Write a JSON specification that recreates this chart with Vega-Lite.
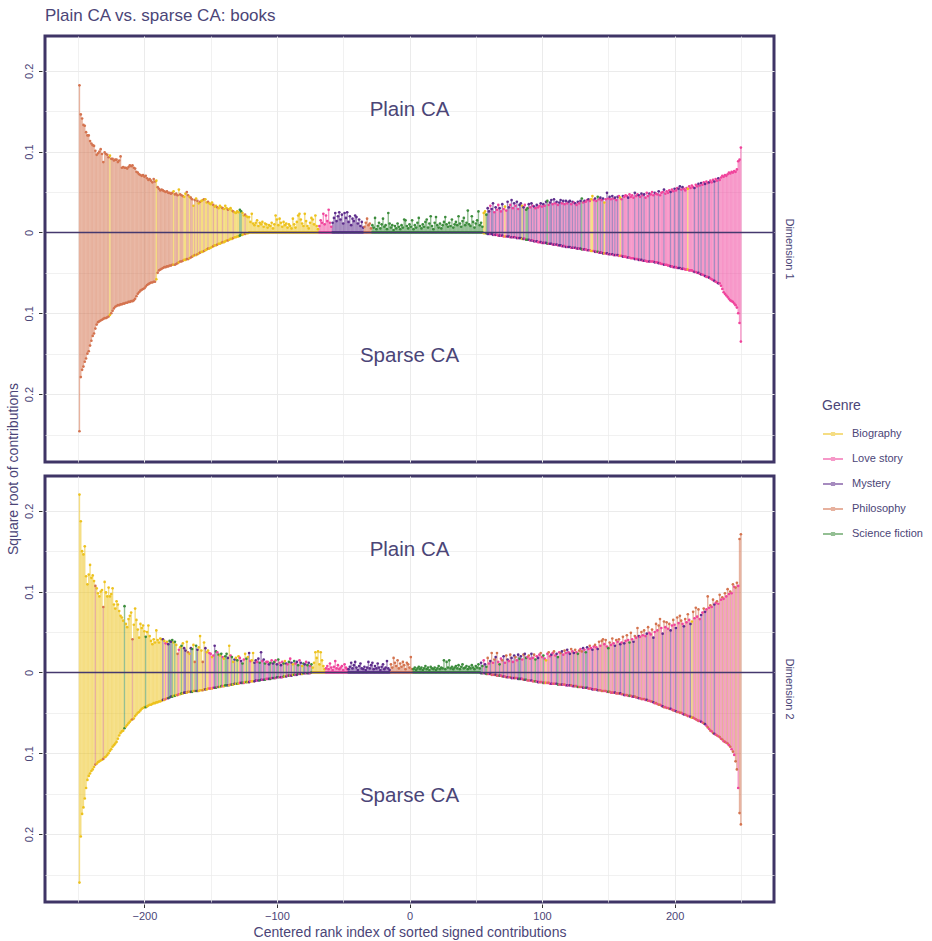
{
"padding":{"left":6,"top":6,"right":0,"bottom":5},
"background":"white",
"title":{"text":"Plain CA vs. sparse CA: books","anchor":"start","frame":"group","fontSize":17,"fontWeight":"normal","color":"#4B4577","font":"Liberation Sans","offset":10},
"data":{"values":[
{"d":1,"x":-249,"g":"P","p":0.182,"s":-0.246},{"d":1,"x":-248,"g":"P","p":0.146,"s":-0.179},{"d":1,"x":-247,"g":"P","p":0.141,"s":-0.170},{"d":1,"x":-246,"g":"P","p":0.133,"s":-0.166},{"d":1,"x":-245,"g":"P","p":0.132,"s":-0.160},{"d":1,"x":-244,"g":"P","p":0.124,"s":-0.156},{"d":1,"x":-243,"g":"P","p":0.120,"s":-0.150},{"d":1,"x":-242,"g":"P","p":0.120,"s":-0.147},{"d":1,"x":-241,"g":"P","p":0.113,"s":-0.140},{"d":1,"x":-240,"g":"P","p":0.110,"s":-0.134},
{"d":1,"x":-239,"g":"P","p":0.108,"s":-0.128},{"d":1,"x":-238,"g":"P","p":0.107,"s":-0.125},{"d":1,"x":-237,"g":"P","p":0.101,"s":-0.119},{"d":1,"x":-236,"g":"P","p":0.096,"s":-0.114},{"d":1,"x":-235,"g":"P","p":0.098,"s":-0.111},{"d":1,"x":-234,"g":"P","p":0.100,"s":-0.110},{"d":1,"x":-233,"g":"P","p":0.103,"s":-0.109},{"d":1,"x":-232,"g":"P","p":0.097,"s":-0.108},{"d":1,"x":-231,"g":"P","p":0.087,"s":-0.107},{"d":1,"x":-230,"g":"P","p":0.099,"s":-0.106},
{"d":1,"x":-229,"g":"P","p":0.097,"s":-0.106},{"d":1,"x":-228,"g":"P","p":0.096,"s":-0.105},{"d":1,"x":-227,"g":"P","p":0.093,"s":-0.104},{"d":1,"x":-226,"g":"B","p":0.095,"s":-0.102},{"d":1,"x":-225,"g":"P","p":0.091,"s":-0.100},{"d":1,"x":-224,"g":"P","p":0.091,"s":-0.097},{"d":1,"x":-223,"g":"P","p":0.089,"s":-0.094},{"d":1,"x":-222,"g":"P","p":0.090,"s":-0.092},{"d":1,"x":-221,"g":"P","p":0.090,"s":-0.091},{"d":1,"x":-220,"g":"P","p":0.087,"s":-0.090},
{"d":1,"x":-219,"g":"P","p":0.089,"s":-0.090},{"d":1,"x":-218,"g":"P","p":0.094,"s":-0.089},{"d":1,"x":-217,"g":"P","p":0.080,"s":-0.089},{"d":1,"x":-216,"g":"P","p":0.081,"s":-0.088},{"d":1,"x":-215,"g":"P","p":0.080,"s":-0.088},{"d":1,"x":-214,"g":"P","p":0.080,"s":-0.087},{"d":1,"x":-213,"g":"P","p":0.079,"s":-0.087},{"d":1,"x":-212,"g":"P","p":0.081,"s":-0.086},{"d":1,"x":-211,"g":"P","p":0.083,"s":-0.086},{"d":1,"x":-210,"g":"P","p":0.082,"s":-0.085},
{"d":1,"x":-209,"g":"P","p":0.083,"s":-0.085},{"d":1,"x":-208,"g":"P","p":0.080,"s":-0.084},{"d":1,"x":-207,"g":"P","p":0.079,"s":-0.082},{"d":1,"x":-206,"g":"P","p":0.075,"s":-0.079},{"d":1,"x":-205,"g":"P","p":0.074,"s":-0.076},{"d":1,"x":-204,"g":"P","p":0.072,"s":-0.074},{"d":1,"x":-203,"g":"P","p":0.071,"s":-0.072},{"d":1,"x":-202,"g":"P","p":0.070,"s":-0.071},{"d":1,"x":-201,"g":"P","p":0.071,"s":-0.070},{"d":1,"x":-200,"g":"P","p":0.069,"s":-0.069},
{"d":1,"x":-199,"g":"P","p":0.070,"s":-0.067},{"d":1,"x":-198,"g":"P","p":0.067,"s":-0.065},{"d":1,"x":-197,"g":"P","p":0.065,"s":-0.064},{"d":1,"x":-196,"g":"P","p":0.066,"s":-0.063},{"d":1,"x":-195,"g":"P","p":0.064,"s":-0.062},{"d":1,"x":-194,"g":"P","p":0.062,"s":-0.062},{"d":1,"x":-193,"g":"P","p":0.066,"s":-0.061},{"d":1,"x":-192,"g":"P","p":0.063,"s":-0.061},{"d":1,"x":-191,"g":"B","p":0.064,"s":-0.058},{"d":1,"x":-190,"g":"P","p":0.056,"s":-0.050},
{"d":1,"x":-189,"g":"P","p":0.054,"s":-0.047},{"d":1,"x":-188,"g":"P","p":0.052,"s":-0.046},{"d":1,"x":-187,"g":"P","p":0.053,"s":-0.045},{"d":1,"x":-186,"g":"P","p":0.052,"s":-0.044},{"d":1,"x":-185,"g":"P","p":0.051,"s":-0.043},{"d":1,"x":-184,"g":"P","p":0.050,"s":-0.043},{"d":1,"x":-183,"g":"P","p":0.051,"s":-0.042},{"d":1,"x":-182,"g":"P","p":0.049,"s":-0.042},{"d":1,"x":-181,"g":"P","p":0.049,"s":-0.041},{"d":1,"x":-180,"g":"P","p":0.048,"s":-0.041},
{"d":1,"x":-179,"g":"P","p":0.049,"s":-0.040},{"d":1,"x":-178,"g":"B","p":0.051,"s":-0.040},{"d":1,"x":-177,"g":"P","p":0.047,"s":-0.040},{"d":1,"x":-176,"g":"P","p":0.048,"s":-0.039},{"d":1,"x":-175,"g":"P","p":0.046,"s":-0.038},{"d":1,"x":-174,"g":"B","p":0.053,"s":-0.037},{"d":1,"x":-173,"g":"P","p":0.047,"s":-0.036},{"d":1,"x":-172,"g":"P","p":0.046,"s":-0.036},{"d":1,"x":-171,"g":"P","p":0.045,"s":-0.035},{"d":1,"x":-170,"g":"B","p":0.044,"s":-0.034},
{"d":1,"x":-169,"g":"B","p":0.048,"s":-0.034},{"d":1,"x":-168,"g":"P","p":0.050,"s":-0.033},{"d":1,"x":-167,"g":"P","p":0.046,"s":-0.033},{"d":1,"x":-166,"g":"B","p":0.044,"s":-0.032},{"d":1,"x":-165,"g":"P","p":0.043,"s":-0.031},{"d":1,"x":-164,"g":"P","p":0.041,"s":-0.030},{"d":1,"x":-163,"g":"B","p":0.033,"s":-0.029},{"d":1,"x":-162,"g":"P","p":0.040,"s":-0.028},{"d":1,"x":-161,"g":"B","p":0.042,"s":-0.028},{"d":1,"x":-160,"g":"P","p":0.039,"s":-0.027},
{"d":1,"x":-159,"g":"B","p":0.036,"s":-0.026},{"d":1,"x":-158,"g":"P","p":0.038,"s":-0.025},{"d":1,"x":-157,"g":"B","p":0.039,"s":-0.024},{"d":1,"x":-156,"g":"B","p":0.040,"s":-0.024},{"d":1,"x":-155,"g":"P","p":0.041,"s":-0.023},{"d":1,"x":-154,"g":"B","p":0.041,"s":-0.022},{"d":1,"x":-153,"g":"B","p":0.037,"s":-0.021},{"d":1,"x":-152,"g":"P","p":0.038,"s":-0.020},{"d":1,"x":-151,"g":"B","p":0.036,"s":-0.020},{"d":1,"x":-150,"g":"B","p":0.035,"s":-0.019},
{"d":1,"x":-149,"g":"B","p":0.037,"s":-0.018},{"d":1,"x":-148,"g":"P","p":0.034,"s":-0.017},{"d":1,"x":-147,"g":"B","p":0.032,"s":-0.016},{"d":1,"x":-146,"g":"B","p":0.033,"s":-0.016},{"d":1,"x":-145,"g":"P","p":0.031,"s":-0.015},{"d":1,"x":-144,"g":"B","p":0.030,"s":-0.014},{"d":1,"x":-143,"g":"B","p":0.033,"s":-0.014},{"d":1,"x":-142,"g":"B","p":0.031,"s":-0.013},{"d":1,"x":-141,"g":"P","p":0.030,"s":-0.012},{"d":1,"x":-140,"g":"B","p":0.029,"s":-0.012},
{"d":1,"x":-139,"g":"B","p":0.033,"s":-0.011},{"d":1,"x":-138,"g":"B","p":0.030,"s":-0.010},{"d":1,"x":-137,"g":"P","p":0.028,"s":-0.010},{"d":1,"x":-136,"g":"B","p":0.029,"s":-0.009},{"d":1,"x":-135,"g":"B","p":0.030,"s":-0.008},{"d":1,"x":-134,"g":"B","p":0.027,"s":-0.008},{"d":1,"x":-133,"g":"P","p":0.026,"s":-0.007},{"d":1,"x":-132,"g":"B","p":0.025,"s":-0.006},{"d":1,"x":-131,"g":"B","p":0.024,"s":-0.006},{"d":1,"x":-130,"g":"B","p":0.026,"s":-0.005},
{"d":1,"x":-129,"g":"B","p":0.025,"s":-0.005},{"d":1,"x":-128,"g":"G","p":0.028,"s":-0.004},{"d":1,"x":-127,"g":"G","p":0.026,"s":-0.003},{"d":1,"x":-126,"g":"B","p":0.024,"s":-0.003},{"d":1,"x":-125,"g":"B","p":0.021,"s":-0.002},{"d":1,"x":-124,"g":"P","p":0.022,"s":-0.002},{"d":1,"x":-123,"g":"B","p":0.020,"s":-0.001},{"d":1,"x":-122,"g":"B","p":0.019,"s":-0.001},
{"d":1,"x":-121,"g":"B","p":0.019,"s":0},{"d":1,"x":-120,"g":"B","p":0.013,"s":0},{"d":1,"x":-119,"g":"B","p":0.023,"s":0},{"d":1,"x":-118,"g":"B","p":0.011,"s":0},{"d":1,"x":-117,"g":"B","p":0.009,"s":0},{"d":1,"x":-116,"g":"B","p":0.012,"s":0},{"d":1,"x":-115,"g":"B","p":0.015,"s":0},{"d":1,"x":-114,"g":"B","p":0.008,"s":0},{"d":1,"x":-113,"g":"B","p":0.012,"s":0},{"d":1,"x":-112,"g":"B","p":0.010,"s":0},
{"d":1,"x":-111,"g":"B","p":0.013,"s":0},{"d":1,"x":-110,"g":"B","p":0.007,"s":0},{"d":1,"x":-109,"g":"B","p":0.011,"s":0},{"d":1,"x":-108,"g":"B","p":0.010,"s":0},{"d":1,"x":-107,"g":"B","p":0.006,"s":0},{"d":1,"x":-106,"g":"B","p":0.009,"s":0},{"d":1,"x":-105,"g":"B","p":0.008,"s":0},{"d":1,"x":-104,"g":"B","p":0.012,"s":0},{"d":1,"x":-103,"g":"B","p":0.005,"s":0},{"d":1,"x":-102,"g":"B","p":0.010,"s":0},
{"d":1,"x":-101,"g":"B","p":0.021,"s":0},{"d":1,"x":-100,"g":"B","p":0.016,"s":0},{"d":1,"x":-99,"g":"B","p":0.009,"s":0},{"d":1,"x":-98,"g":"B","p":0.017,"s":0},{"d":1,"x":-97,"g":"B","p":0.012,"s":0},{"d":1,"x":-96,"g":"B","p":0.007,"s":0},{"d":1,"x":-95,"g":"B","p":0.013,"s":0},{"d":1,"x":-94,"g":"B","p":0.009,"s":0},{"d":1,"x":-93,"g":"B","p":0.011,"s":0},{"d":1,"x":-92,"g":"B","p":0.006,"s":0},
{"d":1,"x":-91,"g":"B","p":0.010,"s":0},{"d":1,"x":-90,"g":"B","p":0.008,"s":0},{"d":1,"x":-89,"g":"B","p":0.005,"s":0},{"d":1,"x":-88,"g":"B","p":0.017,"s":0},{"d":1,"x":-87,"g":"B","p":0.010,"s":0},{"d":1,"x":-86,"g":"B","p":0.006,"s":0},{"d":1,"x":-85,"g":"B","p":0.013,"s":0},{"d":1,"x":-84,"g":"B","p":0.021,"s":0},{"d":1,"x":-83,"g":"B","p":0.023,"s":0},{"d":1,"x":-82,"g":"B","p":0.016,"s":0},
{"d":1,"x":-81,"g":"B","p":0.011,"s":0},{"d":1,"x":-80,"g":"B","p":0.008,"s":0},{"d":1,"x":-79,"g":"B","p":0.023,"s":0},{"d":1,"x":-78,"g":"B","p":0.014,"s":0},{"d":1,"x":-77,"g":"B","p":0.008,"s":0},{"d":1,"x":-76,"g":"B","p":0.005,"s":0},{"d":1,"x":-75,"g":"B","p":0.012,"s":0},{"d":1,"x":-74,"g":"B","p":0.018,"s":0},{"d":1,"x":-73,"g":"B","p":0.016,"s":0},{"d":1,"x":-72,"g":"B","p":0.010,"s":0},
{"d":1,"x":-71,"g":"B","p":0.021,"s":0},{"d":1,"x":-70,"g":"B","p":0.008,"s":0},{"d":1,"x":-69,"g":"B","p":0.004,"s":0},
{"d":1,"x":-68,"g":"L","p":0.008,"s":0},{"d":1,"x":-67,"g":"L","p":0.015,"s":0},{"d":1,"x":-66,"g":"L","p":0.012,"s":0},{"d":1,"x":-65,"g":"L","p":0.023,"s":0},{"d":1,"x":-64,"g":"L","p":0.010,"s":0},{"d":1,"x":-63,"g":"L","p":0.021,"s":0},{"d":1,"x":-62,"g":"L","p":0.014,"s":0},{"d":1,"x":-61,"g":"L","p":0.028,"s":0},{"d":1,"x":-60,"g":"L","p":0.012,"s":0},{"d":1,"x":-59,"g":"L","p":0.007,"s":0},
{"d":1,"x":-58,"g":"M","p":0.012,"s":0},{"d":1,"x":-57,"g":"M","p":0.018,"s":0},{"d":1,"x":-56,"g":"M","p":0.024,"s":0},{"d":1,"x":-55,"g":"M","p":0.014,"s":0},{"d":1,"x":-54,"g":"M","p":0.020,"s":0},{"d":1,"x":-53,"g":"M","p":0.025,"s":0},{"d":1,"x":-52,"g":"M","p":0.016,"s":0},{"d":1,"x":-51,"g":"M","p":0.022,"s":0},{"d":1,"x":-50,"g":"M","p":0.011,"s":0},{"d":1,"x":-49,"g":"M","p":0.024,"s":0},
{"d":1,"x":-48,"g":"M","p":0.018,"s":0},{"d":1,"x":-47,"g":"M","p":0.025,"s":0},{"d":1,"x":-46,"g":"M","p":0.013,"s":0},{"d":1,"x":-45,"g":"M","p":0.020,"s":0},{"d":1,"x":-44,"g":"M","p":0.009,"s":0},{"d":1,"x":-43,"g":"M","p":0.017,"s":0},{"d":1,"x":-42,"g":"M","p":0.014,"s":0},{"d":1,"x":-41,"g":"M","p":0.021,"s":0},{"d":1,"x":-40,"g":"M","p":0.019,"s":0},{"d":1,"x":-39,"g":"M","p":0.011,"s":0},
{"d":1,"x":-38,"g":"M","p":0.016,"s":0},{"d":1,"x":-37,"g":"M","p":0.008,"s":0},{"d":1,"x":-36,"g":"M","p":0.013,"s":0},{"d":1,"x":-35,"g":"M","p":0.006,"s":0},
{"d":1,"x":-34,"g":"P","p":0.007,"s":0},{"d":1,"x":-33,"g":"P","p":0.012,"s":0},{"d":1,"x":-32,"g":"P","p":0.017,"s":0},{"d":1,"x":-31,"g":"P","p":0.009,"s":0},{"d":1,"x":-30,"g":"P","p":0.011,"s":0},{"d":1,"x":-29,"g":"P","p":0.005,"s":0},
{"d":1,"x":-28,"g":"G","p":0.009,"s":0},{"d":1,"x":-27,"g":"G","p":0.006,"s":0},{"d":1,"x":-26,"g":"G","p":0.018,"s":0},{"d":1,"x":-25,"g":"G","p":0.004,"s":0},{"d":1,"x":-24,"g":"G","p":0.008,"s":0},{"d":1,"x":-23,"g":"G","p":0.012,"s":0},{"d":1,"x":-22,"g":"G","p":0.005,"s":0},{"d":1,"x":-21,"g":"G","p":0.010,"s":0},{"d":1,"x":-20,"g":"G","p":0.017,"s":0},{"d":1,"x":-19,"g":"G","p":0.007,"s":0},
{"d":1,"x":-18,"g":"G","p":0.009,"s":0},{"d":1,"x":-17,"g":"G","p":0.004,"s":0},{"d":1,"x":-16,"g":"G","p":0.024,"s":0},{"d":1,"x":-15,"g":"G","p":0.011,"s":0},{"d":1,"x":-14,"g":"G","p":0.006,"s":0},{"d":1,"x":-13,"g":"G","p":0.009,"s":0},{"d":1,"x":-12,"g":"G","p":0.003,"s":0},{"d":1,"x":-11,"g":"G","p":0.008,"s":0},{"d":1,"x":-10,"g":"G","p":0.005,"s":0},{"d":1,"x":-9,"g":"G","p":0.011,"s":0},
{"d":1,"x":-8,"g":"G","p":0.007,"s":0},{"d":1,"x":-7,"g":"G","p":0.004,"s":0},{"d":1,"x":-6,"g":"G","p":0.009,"s":0},{"d":1,"x":-5,"g":"G","p":0.006,"s":0},{"d":1,"x":-4,"g":"G","p":0.016,"s":0},{"d":1,"x":-3,"g":"G","p":0.015,"s":0},{"d":1,"x":-2,"g":"G","p":0.008,"s":0},{"d":1,"x":-1,"g":"G","p":0.005,"s":0},{"d":1,"x":0,"g":"G","p":0.010,"s":0},{"d":1,"x":1,"g":"G","p":0.007,"s":0},
{"d":1,"x":2,"g":"G","p":0.015,"s":0},{"d":1,"x":3,"g":"G","p":0.004,"s":0},{"d":1,"x":4,"g":"G","p":0.009,"s":0},{"d":1,"x":5,"g":"G","p":0.006,"s":0},{"d":1,"x":6,"g":"G","p":0.012,"s":0},{"d":1,"x":7,"g":"G","p":0.018,"s":0},{"d":1,"x":8,"g":"G","p":0.008,"s":0},{"d":1,"x":9,"g":"G","p":0.005,"s":0},{"d":1,"x":10,"g":"G","p":0.010,"s":0},{"d":1,"x":11,"g":"G","p":0.007,"s":0},
{"d":1,"x":12,"g":"G","p":0.013,"s":0},{"d":1,"x":13,"g":"G","p":0.016,"s":0},{"d":1,"x":14,"g":"G","p":0.006,"s":0},{"d":1,"x":15,"g":"G","p":0.011,"s":0},{"d":1,"x":16,"g":"G","p":0.020,"s":0},{"d":1,"x":17,"g":"G","p":0.008,"s":0},{"d":1,"x":18,"g":"G","p":0.004,"s":0},{"d":1,"x":19,"g":"G","p":0.012,"s":0},{"d":1,"x":20,"g":"G","p":0.019,"s":0},{"d":1,"x":21,"g":"G","p":0.009,"s":0},
{"d":1,"x":22,"g":"G","p":0.006,"s":0},{"d":1,"x":23,"g":"G","p":0.011,"s":0},{"d":1,"x":24,"g":"G","p":0.005,"s":0},{"d":1,"x":25,"g":"G","p":0.009,"s":0},{"d":1,"x":26,"g":"G","p":0.013,"s":0},{"d":1,"x":27,"g":"G","p":0.019,"s":0},{"d":1,"x":28,"g":"G","p":0.010,"s":0},{"d":1,"x":29,"g":"G","p":0.007,"s":0},{"d":1,"x":30,"g":"G","p":0.012,"s":0},{"d":1,"x":31,"g":"G","p":0.008,"s":0},
{"d":1,"x":32,"g":"G","p":0.016,"s":0},{"d":1,"x":33,"g":"G","p":0.006,"s":0},{"d":1,"x":34,"g":"G","p":0.010,"s":0},{"d":1,"x":35,"g":"G","p":0.013,"s":0},{"d":1,"x":36,"g":"G","p":0.009,"s":0},{"d":1,"x":37,"g":"G","p":0.020,"s":0},{"d":1,"x":38,"g":"G","p":0.011,"s":0},{"d":1,"x":39,"g":"G","p":0.007,"s":0},{"d":1,"x":40,"g":"G","p":0.014,"s":0},{"d":1,"x":41,"g":"G","p":0.018,"s":0},
{"d":1,"x":42,"g":"G","p":0.009,"s":0},{"d":1,"x":43,"g":"G","p":0.012,"s":0},{"d":1,"x":44,"g":"G","p":0.027,"s":0},{"d":1,"x":45,"g":"G","p":0.010,"s":0},{"d":1,"x":46,"g":"G","p":0.008,"s":0},{"d":1,"x":47,"g":"G","p":0.020,"s":0},{"d":1,"x":48,"g":"G","p":0.013,"s":0},{"d":1,"x":49,"g":"G","p":0.006,"s":0},{"d":1,"x":50,"g":"G","p":0.011,"s":0},{"d":1,"x":51,"g":"G","p":0.015,"s":0},
{"d":1,"x":52,"g":"G","p":0.026,"s":0},{"d":1,"x":53,"g":"G","p":0.009,"s":0},{"d":1,"x":54,"g":"G","p":0.012,"s":0},{"d":1,"x":55,"g":"G","p":0.007,"s":0},
{"d":1,"x":56,"g":"B","p":0.024,"s":-0.001},{"d":1,"x":57,"g":"B","p":0.026,"s":-0.001},{"d":1,"x":58,"g":"G","p":0.022,"s":-0.001},{"d":1,"x":59,"g":"M","p":0.030,"s":-0.002},{"d":1,"x":60,"g":"M","p":0.026,"s":-0.002},{"d":1,"x":61,"g":"L","p":0.033,"s":-0.002},{"d":1,"x":62,"g":"M","p":0.029,"s":-0.002},{"d":1,"x":63,"g":"M","p":0.036,"s":-0.003},{"d":1,"x":64,"g":"L","p":0.025,"s":-0.003},{"d":1,"x":65,"g":"M","p":0.031,"s":-0.003},
{"d":1,"x":66,"g":"L","p":0.028,"s":-0.003},{"d":1,"x":67,"g":"L","p":0.034,"s":-0.004},{"d":1,"x":68,"g":"M","p":0.030,"s":-0.004},{"d":1,"x":69,"g":"L","p":0.026,"s":-0.004},{"d":1,"x":70,"g":"M","p":0.035,"s":-0.004},{"d":1,"x":71,"g":"L","p":0.029,"s":-0.005},{"d":1,"x":72,"g":"B","p":0.032,"s":-0.005},{"d":1,"x":73,"g":"L","p":0.027,"s":-0.005},{"d":1,"x":74,"g":"M","p":0.038,"s":-0.005},{"d":1,"x":75,"g":"M","p":0.031,"s":-0.005},
{"d":1,"x":76,"g":"L","p":0.034,"s":-0.006},{"d":1,"x":77,"g":"M","p":0.040,"s":-0.006},{"d":1,"x":78,"g":"L","p":0.030,"s":-0.006},{"d":1,"x":79,"g":"M","p":0.036,"s":-0.006},{"d":1,"x":80,"g":"L","p":0.033,"s":-0.006},{"d":1,"x":81,"g":"M","p":0.038,"s":-0.007},{"d":1,"x":82,"g":"L","p":0.029,"s":-0.007},{"d":1,"x":83,"g":"M","p":0.034,"s":-0.007},{"d":1,"x":84,"g":"M","p":0.036,"s":-0.007},{"d":1,"x":85,"g":"B","p":0.033,"s":-0.008},
{"d":1,"x":86,"g":"M","p":0.031,"s":-0.008},{"d":1,"x":87,"g":"L","p":0.034,"s":-0.008},{"d":1,"x":88,"g":"G","p":0.028,"s":-0.009},{"d":1,"x":89,"g":"G","p":0.030,"s":-0.009},{"d":1,"x":90,"g":"M","p":0.035,"s":-0.009},{"d":1,"x":91,"g":"L","p":0.031,"s":-0.010},{"d":1,"x":92,"g":"M","p":0.036,"s":-0.010},{"d":1,"x":93,"g":"L","p":0.033,"s":-0.010},{"d":1,"x":94,"g":"M","p":0.032,"s":-0.011},{"d":1,"x":95,"g":"L","p":0.030,"s":-0.011},
{"d":1,"x":96,"g":"M","p":0.034,"s":-0.011},{"d":1,"x":97,"g":"L","p":0.031,"s":-0.012},{"d":1,"x":98,"g":"L","p":0.033,"s":-0.012},{"d":1,"x":99,"g":"M","p":0.036,"s":-0.012},{"d":1,"x":100,"g":"L","p":0.032,"s":-0.013},{"d":1,"x":101,"g":"M","p":0.035,"s":-0.013},{"d":1,"x":102,"g":"L","p":0.033,"s":-0.013},{"d":1,"x":103,"g":"M","p":0.038,"s":-0.013},{"d":1,"x":104,"g":"G","p":0.039,"s":-0.014},{"d":1,"x":105,"g":"L","p":0.034,"s":-0.014},
{"d":1,"x":106,"g":"M","p":0.037,"s":-0.014},{"d":1,"x":107,"g":"M","p":0.040,"s":-0.014},{"d":1,"x":108,"g":"L","p":0.035,"s":-0.015},{"d":1,"x":109,"g":"M","p":0.041,"s":-0.015},{"d":1,"x":110,"g":"L","p":0.036,"s":-0.015},{"d":1,"x":111,"g":"M","p":0.038,"s":-0.015},{"d":1,"x":112,"g":"L","p":0.034,"s":-0.016},{"d":1,"x":113,"g":"M","p":0.037,"s":-0.016},{"d":1,"x":114,"g":"M","p":0.040,"s":-0.016},{"d":1,"x":115,"g":"L","p":0.036,"s":-0.017},
{"d":1,"x":116,"g":"M","p":0.039,"s":-0.017},{"d":1,"x":117,"g":"L","p":0.035,"s":-0.017},{"d":1,"x":118,"g":"M","p":0.039,"s":-0.018},{"d":1,"x":119,"g":"L","p":0.036,"s":-0.018},{"d":1,"x":120,"g":"M","p":0.038,"s":-0.018},{"d":1,"x":121,"g":"M","p":0.039,"s":-0.018},{"d":1,"x":122,"g":"L","p":0.035,"s":-0.019},{"d":1,"x":123,"g":"M","p":0.038,"s":-0.019},{"d":1,"x":124,"g":"L","p":0.037,"s":-0.019},{"d":1,"x":125,"g":"M","p":0.036,"s":-0.019},
{"d":1,"x":126,"g":"L","p":0.034,"s":-0.020},{"d":1,"x":127,"g":"M","p":0.038,"s":-0.020},{"d":1,"x":128,"g":"L","p":0.036,"s":-0.020},{"d":1,"x":129,"g":"M","p":0.039,"s":-0.020},{"d":1,"x":130,"g":"G","p":0.042,"s":-0.021},{"d":1,"x":131,"g":"L","p":0.037,"s":-0.021},{"d":1,"x":132,"g":"M","p":0.039,"s":-0.021},{"d":1,"x":133,"g":"L","p":0.038,"s":-0.021},{"d":1,"x":134,"g":"L","p":0.040,"s":-0.022},{"d":1,"x":135,"g":"M","p":0.041,"s":-0.022},
{"d":1,"x":136,"g":"L","p":0.039,"s":-0.022},{"d":1,"x":137,"g":"B","p":0.041,"s":-0.023},{"d":1,"x":138,"g":"B","p":0.045,"s":-0.023},{"d":1,"x":139,"g":"L","p":0.040,"s":-0.023},{"d":1,"x":140,"g":"M","p":0.042,"s":-0.024},{"d":1,"x":141,"g":"L","p":0.039,"s":-0.024},{"d":1,"x":142,"g":"G","p":0.044,"s":-0.024},{"d":1,"x":143,"g":"L","p":0.041,"s":-0.025},{"d":1,"x":144,"g":"M","p":0.043,"s":-0.025},{"d":1,"x":145,"g":"L","p":0.040,"s":-0.025},
{"d":1,"x":146,"g":"M","p":0.042,"s":-0.026},{"d":1,"x":147,"g":"B","p":0.037,"s":-0.026},{"d":1,"x":148,"g":"L","p":0.041,"s":-0.026},{"d":1,"x":149,"g":"M","p":0.049,"s":-0.026},{"d":1,"x":150,"g":"L","p":0.042,"s":-0.027},{"d":1,"x":151,"g":"M","p":0.044,"s":-0.027},{"d":1,"x":152,"g":"L","p":0.041,"s":-0.027},{"d":1,"x":153,"g":"M","p":0.045,"s":-0.027},{"d":1,"x":154,"g":"L","p":0.042,"s":-0.028},{"d":1,"x":155,"g":"M","p":0.043,"s":-0.028},
{"d":1,"x":156,"g":"L","p":0.040,"s":-0.028},{"d":1,"x":157,"g":"M","p":0.044,"s":-0.028},{"d":1,"x":158,"g":"L","p":0.045,"s":-0.029},{"d":1,"x":159,"g":"B","p":0.043,"s":-0.029},{"d":1,"x":160,"g":"L","p":0.041,"s":-0.029},{"d":1,"x":161,"g":"M","p":0.045,"s":-0.030},{"d":1,"x":162,"g":"L","p":0.044,"s":-0.030},{"d":1,"x":163,"g":"L","p":0.046,"s":-0.030},{"d":1,"x":164,"g":"L","p":0.045,"s":-0.031},{"d":1,"x":165,"g":"M","p":0.043,"s":-0.031},
{"d":1,"x":166,"g":"L","p":0.047,"s":-0.031},{"d":1,"x":167,"g":"L","p":0.044,"s":-0.032},{"d":1,"x":168,"g":"L","p":0.046,"s":-0.032},{"d":1,"x":169,"g":"L","p":0.043,"s":-0.032},{"d":1,"x":170,"g":"M","p":0.049,"s":-0.033},{"d":1,"x":171,"g":"L","p":0.045,"s":-0.033},{"d":1,"x":172,"g":"L","p":0.047,"s":-0.033},{"d":1,"x":173,"g":"M","p":0.046,"s":-0.034},{"d":1,"x":174,"g":"L","p":0.044,"s":-0.034},{"d":1,"x":175,"g":"M","p":0.048,"s":-0.034},
{"d":1,"x":176,"g":"L","p":0.046,"s":-0.035},{"d":1,"x":177,"g":"M","p":0.047,"s":-0.035},{"d":1,"x":178,"g":"L","p":0.043,"s":-0.035},{"d":1,"x":179,"g":"L","p":0.049,"s":-0.036},{"d":1,"x":180,"g":"L","p":0.045,"s":-0.036},{"d":1,"x":181,"g":"M","p":0.048,"s":-0.036},{"d":1,"x":182,"g":"L","p":0.047,"s":-0.036},{"d":1,"x":183,"g":"L","p":0.050,"s":-0.036},{"d":1,"x":184,"g":"L","p":0.046,"s":-0.036},{"d":1,"x":185,"g":"M","p":0.049,"s":-0.037},
{"d":1,"x":186,"g":"L","p":0.048,"s":-0.037},{"d":1,"x":187,"g":"L","p":0.047,"s":-0.037},{"d":1,"x":188,"g":"M","p":0.051,"s":-0.038},{"d":1,"x":189,"g":"L","p":0.046,"s":-0.038},{"d":1,"x":190,"g":"L","p":0.049,"s":-0.039},{"d":1,"x":191,"g":"L","p":0.050,"s":-0.039},{"d":1,"x":192,"g":"M","p":0.053,"s":-0.040},{"d":1,"x":193,"g":"L","p":0.048,"s":-0.040},{"d":1,"x":194,"g":"L","p":0.051,"s":-0.040},{"d":1,"x":195,"g":"L","p":0.049,"s":-0.041},
{"d":1,"x":196,"g":"L","p":0.052,"s":-0.041},{"d":1,"x":197,"g":"M","p":0.050,"s":-0.042},{"d":1,"x":198,"g":"L","p":0.053,"s":-0.042},{"d":1,"x":199,"g":"L","p":0.051,"s":-0.043},{"d":1,"x":200,"g":"M","p":0.054,"s":-0.043},{"d":1,"x":201,"g":"L","p":0.052,"s":-0.043},{"d":1,"x":202,"g":"L","p":0.055,"s":-0.044},{"d":1,"x":203,"g":"M","p":0.054,"s":-0.044},{"d":1,"x":204,"g":"M","p":0.057,"s":-0.044},{"d":1,"x":205,"g":"L","p":0.053,"s":-0.045},
{"d":1,"x":206,"g":"M","p":0.056,"s":-0.045},{"d":1,"x":207,"g":"L","p":0.054,"s":-0.045},{"d":1,"x":208,"g":"L","p":0.052,"s":-0.046},{"d":1,"x":209,"g":"L","p":0.055,"s":-0.046},{"d":1,"x":210,"g":"B","p":0.054,"s":-0.046},{"d":1,"x":211,"g":"L","p":0.057,"s":-0.047},{"d":1,"x":212,"g":"L","p":0.055,"s":-0.047},{"d":1,"x":213,"g":"L","p":0.058,"s":-0.047},{"d":1,"x":214,"g":"L","p":0.056,"s":-0.048},{"d":1,"x":215,"g":"M","p":0.055,"s":-0.049},
{"d":1,"x":216,"g":"L","p":0.059,"s":-0.049},{"d":1,"x":217,"g":"L","p":0.057,"s":-0.050},{"d":1,"x":218,"g":"M","p":0.060,"s":-0.050},{"d":1,"x":219,"g":"L","p":0.058,"s":-0.051},{"d":1,"x":220,"g":"M","p":0.061,"s":-0.052},{"d":1,"x":221,"g":"L","p":0.059,"s":-0.052},{"d":1,"x":222,"g":"L","p":0.062,"s":-0.053},{"d":1,"x":223,"g":"M","p":0.060,"s":-0.054},{"d":1,"x":224,"g":"L","p":0.063,"s":-0.055},{"d":1,"x":225,"g":"L","p":0.061,"s":-0.055},
{"d":1,"x":226,"g":"M","p":0.062,"s":-0.056},{"d":1,"x":227,"g":"L","p":0.064,"s":-0.057},{"d":1,"x":228,"g":"L","p":0.062,"s":-0.058},{"d":1,"x":229,"g":"L","p":0.065,"s":-0.059},{"d":1,"x":230,"g":"M","p":0.063,"s":-0.060},{"d":1,"x":231,"g":"L","p":0.066,"s":-0.061},{"d":1,"x":232,"g":"L","p":0.064,"s":-0.062},{"d":1,"x":233,"g":"M","p":0.067,"s":-0.063},{"d":1,"x":234,"g":"L","p":0.065,"s":-0.063},{"d":1,"x":235,"g":"L","p":0.068,"s":-0.066},
{"d":1,"x":236,"g":"L","p":0.070,"s":-0.070},{"d":1,"x":237,"g":"L","p":0.069,"s":-0.074},{"d":1,"x":238,"g":"L","p":0.071,"s":-0.076},{"d":1,"x":239,"g":"L","p":0.070,"s":-0.078},{"d":1,"x":240,"g":"L","p":0.072,"s":-0.080},{"d":1,"x":241,"g":"L","p":0.074,"s":-0.082},{"d":1,"x":242,"g":"L","p":0.073,"s":-0.084},{"d":1,"x":243,"g":"L","p":0.075,"s":-0.085},{"d":1,"x":244,"g":"L","p":0.074,"s":-0.086},{"d":1,"x":245,"g":"L","p":0.076,"s":-0.088},
{"d":1,"x":246,"g":"L","p":0.075,"s":-0.090},{"d":1,"x":247,"g":"L","p":0.078,"s":-0.093},{"d":1,"x":248,"g":"L","p":0.088,"s":-0.100},{"d":1,"x":249,"g":"L","p":0.090,"s":-0.112},{"d":1,"x":250,"g":"L","p":0.105,"s":-0.135},
{"d":2,"x":-249,"g":"B","p":0.220,"s":-0.260},{"d":2,"x":-248,"g":"B","p":0.187,"s":-0.203},{"d":2,"x":-247,"g":"B","p":0.150,"s":-0.175},{"d":2,"x":-246,"g":"B","p":0.146,"s":-0.167},{"d":2,"x":-245,"g":"B","p":0.156,"s":-0.156},{"d":2,"x":-244,"g":"B","p":0.119,"s":-0.143},{"d":2,"x":-243,"g":"B","p":0.109,"s":-0.133},{"d":2,"x":-242,"g":"B","p":0.121,"s":-0.128},{"d":2,"x":-241,"g":"B","p":0.133,"s":-0.125},{"d":2,"x":-240,"g":"B","p":0.117,"s":-0.122},
{"d":2,"x":-239,"g":"B","p":0.120,"s":-0.120},{"d":2,"x":-238,"g":"B","p":0.113,"s":-0.117},{"d":2,"x":-237,"g":"P","p":0.107,"s":-0.114},{"d":2,"x":-236,"g":"B","p":0.104,"s":-0.113},{"d":2,"x":-235,"g":"B","p":0.098,"s":-0.111},{"d":2,"x":-234,"g":"B","p":0.094,"s":-0.110},{"d":2,"x":-233,"g":"B","p":0.100,"s":-0.109},{"d":2,"x":-232,"g":"B","p":0.102,"s":-0.108},{"d":2,"x":-231,"g":"P","p":0.081,"s":-0.107},{"d":2,"x":-230,"g":"B","p":0.112,"s":-0.105},
{"d":2,"x":-229,"g":"B","p":0.099,"s":-0.104},{"d":2,"x":-228,"g":"B","p":0.094,"s":-0.102},{"d":2,"x":-227,"g":"B","p":0.105,"s":-0.100},{"d":2,"x":-226,"g":"B","p":0.094,"s":-0.097},{"d":2,"x":-225,"g":"B","p":0.097,"s":-0.095},{"d":2,"x":-224,"g":"B","p":0.104,"s":-0.092},{"d":2,"x":-223,"g":"B","p":0.084,"s":-0.090},{"d":2,"x":-222,"g":"B","p":0.079,"s":-0.088},{"d":2,"x":-221,"g":"B","p":0.088,"s":-0.086},{"d":2,"x":-220,"g":"B","p":0.084,"s":-0.082},
{"d":2,"x":-219,"g":"B","p":0.076,"s":-0.078},{"d":2,"x":-218,"g":"B","p":0.070,"s":-0.075},{"d":2,"x":-217,"g":"B","p":0.068,"s":-0.073},{"d":2,"x":-216,"g":"B","p":0.064,"s":-0.072},{"d":2,"x":-215,"g":"G","p":0.082,"s":-0.069},{"d":2,"x":-214,"g":"B","p":0.060,"s":-0.067},{"d":2,"x":-213,"g":"B","p":0.056,"s":-0.065},{"d":2,"x":-212,"g":"B","p":0.066,"s":-0.063},{"d":2,"x":-211,"g":"B","p":0.070,"s":-0.061},{"d":2,"x":-210,"g":"B","p":0.074,"s":-0.059},
{"d":2,"x":-209,"g":"P","p":0.041,"s":-0.058},{"d":2,"x":-208,"g":"B","p":0.059,"s":-0.057},{"d":2,"x":-207,"g":"B","p":0.079,"s":-0.054},{"d":2,"x":-206,"g":"B","p":0.065,"s":-0.052},{"d":2,"x":-205,"g":"B","p":0.053,"s":-0.050},{"d":2,"x":-204,"g":"B","p":0.043,"s":-0.049},{"d":2,"x":-203,"g":"B","p":0.060,"s":-0.047},{"d":2,"x":-202,"g":"B","p":0.055,"s":-0.045},{"d":2,"x":-201,"g":"B","p":0.058,"s":-0.044},{"d":2,"x":-200,"g":"B","p":0.051,"s":-0.043},
{"d":2,"x":-199,"g":"G","p":0.044,"s":-0.043},{"d":2,"x":-198,"g":"B","p":0.050,"s":-0.042},{"d":2,"x":-197,"g":"B","p":0.058,"s":-0.041},{"d":2,"x":-196,"g":"B","p":0.045,"s":-0.040},{"d":2,"x":-195,"g":"B","p":0.039,"s":-0.040},{"d":2,"x":-194,"g":"B","p":0.035,"s":-0.039},{"d":2,"x":-193,"g":"B","p":0.041,"s":-0.038},{"d":2,"x":-192,"g":"B","p":0.037,"s":-0.038},{"d":2,"x":-191,"g":"B","p":0.052,"s":-0.037},{"d":2,"x":-190,"g":"B","p":0.040,"s":-0.037},
{"d":2,"x":-189,"g":"B","p":0.037,"s":-0.036},{"d":2,"x":-188,"g":"B","p":0.042,"s":-0.036},{"d":2,"x":-187,"g":"B","p":0.041,"s":-0.035},{"d":2,"x":-186,"g":"M","p":0.041,"s":-0.034},{"d":2,"x":-185,"g":"B","p":0.039,"s":-0.034},{"d":2,"x":-184,"g":"L","p":0.036,"s":-0.033},{"d":2,"x":-183,"g":"B","p":0.038,"s":-0.032},{"d":2,"x":-182,"g":"M","p":0.035,"s":-0.032},{"d":2,"x":-181,"g":"G","p":0.039,"s":-0.031},{"d":2,"x":-180,"g":"M","p":0.038,"s":-0.030},
{"d":2,"x":-179,"g":"G","p":0.040,"s":-0.030},{"d":2,"x":-178,"g":"B","p":0.037,"s":-0.029},{"d":2,"x":-177,"g":"G","p":0.038,"s":-0.029},{"d":2,"x":-176,"g":"B","p":0.034,"s":-0.028},{"d":2,"x":-175,"g":"P","p":0.023,"s":-0.028},{"d":2,"x":-174,"g":"L","p":0.028,"s":-0.027},{"d":2,"x":-173,"g":"B","p":0.031,"s":-0.027},{"d":2,"x":-172,"g":"G","p":0.033,"s":-0.026},{"d":2,"x":-171,"g":"B","p":0.036,"s":-0.026},{"d":2,"x":-170,"g":"M","p":0.030,"s":-0.025},
{"d":2,"x":-169,"g":"M","p":0.027,"s":-0.025},{"d":2,"x":-168,"g":"B","p":0.038,"s":-0.025},{"d":2,"x":-167,"g":"P","p":0.025,"s":-0.024},{"d":2,"x":-166,"g":"B","p":0.023,"s":-0.024},{"d":2,"x":-165,"g":"M","p":0.030,"s":-0.024},{"d":2,"x":-164,"g":"G","p":0.029,"s":-0.024},{"d":2,"x":-163,"g":"B","p":0.034,"s":-0.023},{"d":2,"x":-162,"g":"P","p":0.013,"s":-0.023},{"d":2,"x":-161,"g":"G","p":0.033,"s":-0.023},{"d":2,"x":-160,"g":"M","p":0.028,"s":-0.023},
{"d":2,"x":-159,"g":"B","p":0.031,"s":-0.023},{"d":2,"x":-158,"g":"B","p":0.045,"s":-0.022},{"d":2,"x":-157,"g":"B","p":0.027,"s":-0.022},{"d":2,"x":-156,"g":"P","p":0.013,"s":-0.022},{"d":2,"x":-155,"g":"B","p":0.037,"s":-0.021},{"d":2,"x":-154,"g":"M","p":0.030,"s":-0.021},{"d":2,"x":-153,"g":"B","p":0.025,"s":-0.021},{"d":2,"x":-152,"g":"B","p":0.027,"s":-0.020},{"d":2,"x":-151,"g":"L","p":0.024,"s":-0.020},{"d":2,"x":-150,"g":"L","p":0.023,"s":-0.020},
{"d":2,"x":-149,"g":"B","p":0.019,"s":-0.020},{"d":2,"x":-148,"g":"L","p":0.021,"s":-0.019},{"d":2,"x":-147,"g":"M","p":0.033,"s":-0.019},{"d":2,"x":-146,"g":"G","p":0.026,"s":-0.019},{"d":2,"x":-145,"g":"L","p":0.025,"s":-0.018},{"d":2,"x":-144,"g":"G","p":0.022,"s":-0.018},{"d":2,"x":-143,"g":"B","p":0.021,"s":-0.018},{"d":2,"x":-142,"g":"G","p":0.023,"s":-0.017},{"d":2,"x":-141,"g":"L","p":0.019,"s":-0.017},{"d":2,"x":-140,"g":"B","p":0.017,"s":-0.017},
{"d":2,"x":-139,"g":"G","p":0.020,"s":-0.016},{"d":2,"x":-138,"g":"G","p":0.023,"s":-0.016},{"d":2,"x":-137,"g":"M","p":0.018,"s":-0.016},{"d":2,"x":-136,"g":"B","p":0.033,"s":-0.016},{"d":2,"x":-135,"g":"L","p":0.021,"s":-0.015},{"d":2,"x":-134,"g":"G","p":0.019,"s":-0.015},{"d":2,"x":-133,"g":"B","p":0.013,"s":-0.015},{"d":2,"x":-132,"g":"M","p":0.016,"s":-0.014},{"d":2,"x":-131,"g":"B","p":0.018,"s":-0.014},{"d":2,"x":-130,"g":"G","p":0.015,"s":-0.014},
{"d":2,"x":-129,"g":"B","p":0.020,"s":-0.014},{"d":2,"x":-128,"g":"L","p":0.018,"s":-0.013},{"d":2,"x":-127,"g":"M","p":0.014,"s":-0.013},{"d":2,"x":-126,"g":"G","p":0.011,"s":-0.013},{"d":2,"x":-125,"g":"L","p":0.016,"s":-0.013},{"d":2,"x":-124,"g":"B","p":0.023,"s":-0.012},{"d":2,"x":-123,"g":"G","p":0.017,"s":-0.012},{"d":2,"x":-122,"g":"B","p":0.019,"s":-0.012},{"d":2,"x":-121,"g":"M","p":0.024,"s":-0.012},{"d":2,"x":-120,"g":"L","p":0.014,"s":-0.011},
{"d":2,"x":-119,"g":"B","p":0.015,"s":-0.011},{"d":2,"x":-118,"g":"B","p":0.024,"s":-0.011},{"d":2,"x":-117,"g":"M","p":0.012,"s":-0.011},{"d":2,"x":-116,"g":"M","p":0.015,"s":-0.010},{"d":2,"x":-115,"g":"L","p":0.013,"s":-0.010},{"d":2,"x":-114,"g":"M","p":0.017,"s":-0.010},{"d":2,"x":-113,"g":"G","p":0.012,"s":-0.010},{"d":2,"x":-112,"g":"M","p":0.025,"s":-0.009},{"d":2,"x":-111,"g":"L","p":0.014,"s":-0.009},{"d":2,"x":-110,"g":"M","p":0.016,"s":-0.009},
{"d":2,"x":-109,"g":"G","p":0.011,"s":-0.009},{"d":2,"x":-108,"g":"L","p":0.013,"s":-0.008},{"d":2,"x":-107,"g":"L","p":0.013,"s":-0.008},{"d":2,"x":-106,"g":"M","p":0.010,"s":-0.008},{"d":2,"x":-105,"g":"G","p":0.012,"s":-0.008},{"d":2,"x":-104,"g":"L","p":0.015,"s":-0.007},{"d":2,"x":-103,"g":"M","p":0.011,"s":-0.007},{"d":2,"x":-102,"g":"G","p":0.013,"s":-0.007},{"d":2,"x":-101,"g":"L","p":0.015,"s":-0.007},{"d":2,"x":-100,"g":"M","p":0.010,"s":-0.006},
{"d":2,"x":-99,"g":"G","p":0.016,"s":-0.006},{"d":2,"x":-98,"g":"L","p":0.012,"s":-0.006},{"d":2,"x":-97,"g":"M","p":0.009,"s":-0.006},{"d":2,"x":-96,"g":"L","p":0.013,"s":-0.006},{"d":2,"x":-95,"g":"G","p":0.011,"s":-0.005},{"d":2,"x":-94,"g":"B","p":0.014,"s":-0.005},{"d":2,"x":-93,"g":"M","p":0.011,"s":-0.005},{"d":2,"x":-92,"g":"L","p":0.010,"s":-0.004},{"d":2,"x":-91,"g":"G","p":0.013,"s":-0.004},{"d":2,"x":-90,"g":"L","p":0.017,"s":-0.004},
{"d":2,"x":-89,"g":"M","p":0.012,"s":-0.004},{"d":2,"x":-88,"g":"B","p":0.010,"s":-0.003},{"d":2,"x":-87,"g":"G","p":0.014,"s":-0.003},{"d":2,"x":-86,"g":"L","p":0.011,"s":-0.003},{"d":2,"x":-85,"g":"M","p":0.013,"s":-0.003},{"d":2,"x":-84,"g":"G","p":0.009,"s":-0.002},{"d":2,"x":-83,"g":"L","p":0.015,"s":-0.002},{"d":2,"x":-82,"g":"M","p":0.012,"s":-0.002},{"d":2,"x":-81,"g":"B","p":0.008,"s":-0.002},{"d":2,"x":-80,"g":"G","p":0.011,"s":-0.001},
{"d":2,"x":-79,"g":"M","p":0.010,"s":-0.001},{"d":2,"x":-78,"g":"L","p":0.013,"s":-0.001},{"d":2,"x":-77,"g":"G","p":0.009,"s":-0.001},{"d":2,"x":-76,"g":"M","p":0.012,"s":-0.001},{"d":2,"x":-75,"g":"L","p":0.008,"s":-0.001},{"d":2,"x":-74,"g":"G","p":0.010,"s":0},
{"d":2,"x":-73,"g":"B","p":0.006,"s":0},{"d":2,"x":-72,"g":"B","p":0.012,"s":0},{"d":2,"x":-71,"g":"B","p":0.025,"s":0},{"d":2,"x":-70,"g":"B","p":0.018,"s":0},{"d":2,"x":-69,"g":"B","p":0.026,"s":0},{"d":2,"x":-68,"g":"B","p":0.010,"s":0},{"d":2,"x":-67,"g":"B","p":0.025,"s":0},{"d":2,"x":-66,"g":"B","p":0.015,"s":0},{"d":2,"x":-65,"g":"B","p":0.008,"s":0},{"d":2,"x":-64,"g":"B","p":0.004,"s":0},
{"d":2,"x":-63,"g":"L","p":0.005,"s":0},{"d":2,"x":-62,"g":"L","p":0.008,"s":0},{"d":2,"x":-61,"g":"L","p":0.004,"s":0},{"d":2,"x":-60,"g":"L","p":0.011,"s":0},{"d":2,"x":-59,"g":"L","p":0.006,"s":0},{"d":2,"x":-58,"g":"L","p":0.003,"s":0},{"d":2,"x":-57,"g":"L","p":0.007,"s":0},{"d":2,"x":-56,"g":"L","p":0.014,"s":0},{"d":2,"x":-55,"g":"L","p":0.005,"s":0},{"d":2,"x":-54,"g":"L","p":0.009,"s":0},
{"d":2,"x":-53,"g":"L","p":0.004,"s":0},{"d":2,"x":-52,"g":"L","p":0.006,"s":0},{"d":2,"x":-51,"g":"L","p":0.008,"s":0},{"d":2,"x":-50,"g":"L","p":0.003,"s":0},{"d":2,"x":-49,"g":"L","p":0.010,"s":0},{"d":2,"x":-48,"g":"L","p":0.006,"s":0},{"d":2,"x":-47,"g":"L","p":0.004,"s":0},
{"d":2,"x":-46,"g":"M","p":0.004,"s":0},{"d":2,"x":-45,"g":"M","p":0.007,"s":0},{"d":2,"x":-44,"g":"M","p":0.012,"s":0},{"d":2,"x":-43,"g":"M","p":0.005,"s":0},{"d":2,"x":-42,"g":"M","p":0.009,"s":0},{"d":2,"x":-41,"g":"M","p":0.013,"s":0},{"d":2,"x":-40,"g":"M","p":0.006,"s":0},{"d":2,"x":-39,"g":"M","p":0.003,"s":0},{"d":2,"x":-38,"g":"M","p":0.008,"s":0},{"d":2,"x":-37,"g":"M","p":0.011,"s":0},
{"d":2,"x":-36,"g":"M","p":0.005,"s":0},{"d":2,"x":-35,"g":"M","p":0.004,"s":0},{"d":2,"x":-34,"g":"M","p":0.007,"s":0},{"d":2,"x":-33,"g":"M","p":0.003,"s":0},{"d":2,"x":-32,"g":"M","p":0.006,"s":0},{"d":2,"x":-31,"g":"M","p":0.013,"s":0},{"d":2,"x":-30,"g":"M","p":0.005,"s":0},{"d":2,"x":-29,"g":"M","p":0.009,"s":0},{"d":2,"x":-28,"g":"M","p":0.012,"s":0},{"d":2,"x":-27,"g":"M","p":0.004,"s":0},
{"d":2,"x":-26,"g":"M","p":0.008,"s":0},{"d":2,"x":-25,"g":"M","p":0.005,"s":0},{"d":2,"x":-24,"g":"M","p":0.011,"s":0},{"d":2,"x":-23,"g":"M","p":0.006,"s":0},{"d":2,"x":-22,"g":"M","p":0.003,"s":0},{"d":2,"x":-21,"g":"M","p":0.007,"s":0},{"d":2,"x":-20,"g":"M","p":0.010,"s":0},{"d":2,"x":-19,"g":"M","p":0.004,"s":0},{"d":2,"x":-18,"g":"M","p":0.006,"s":0},{"d":2,"x":-17,"g":"M","p":0.014,"s":0},
{"d":2,"x":-16,"g":"M","p":0.005,"s":0},{"d":2,"x":-15,"g":"M","p":0.003,"s":0},
{"d":2,"x":-14,"g":"P","p":0.010,"s":0},{"d":2,"x":-13,"g":"P","p":0.006,"s":0},{"d":2,"x":-12,"g":"P","p":0.018,"s":0},{"d":2,"x":-11,"g":"P","p":0.012,"s":0},{"d":2,"x":-10,"g":"P","p":0.008,"s":0},{"d":2,"x":-9,"g":"P","p":0.015,"s":0},{"d":2,"x":-8,"g":"P","p":0.005,"s":0},{"d":2,"x":-7,"g":"P","p":0.011,"s":0},{"d":2,"x":-6,"g":"P","p":0.007,"s":0},{"d":2,"x":-5,"g":"P","p":0.013,"s":0},
{"d":2,"x":-4,"g":"P","p":0.009,"s":0},{"d":2,"x":-3,"g":"P","p":0.004,"s":0},{"d":2,"x":-2,"g":"P","p":0.012,"s":0},{"d":2,"x":-1,"g":"P","p":0.010,"s":0},{"d":2,"x":0,"g":"P","p":0.006,"s":0},{"d":2,"x":1,"g":"P","p":0.019,"s":0},{"d":2,"x":2,"g":"P","p":0.004,"s":0},
{"d":2,"x":3,"g":"G","p":0.004,"s":0},{"d":2,"x":4,"g":"G","p":0.006,"s":0},{"d":2,"x":5,"g":"G","p":0.003,"s":0},{"d":2,"x":6,"g":"G","p":0.005,"s":0},{"d":2,"x":7,"g":"G","p":0.007,"s":0},{"d":2,"x":8,"g":"G","p":0.004,"s":0},{"d":2,"x":9,"g":"G","p":0.006,"s":0},{"d":2,"x":10,"g":"G","p":0.003,"s":0},{"d":2,"x":11,"g":"G","p":0.005,"s":0},{"d":2,"x":12,"g":"G","p":0.008,"s":0},
{"d":2,"x":13,"g":"G","p":0.004,"s":0},{"d":2,"x":14,"g":"G","p":0.006,"s":0},{"d":2,"x":15,"g":"G","p":0.003,"s":0},{"d":2,"x":16,"g":"G","p":0.007,"s":0},{"d":2,"x":17,"g":"G","p":0.005,"s":0},{"d":2,"x":18,"g":"G","p":0.004,"s":0},{"d":2,"x":19,"g":"G","p":0.006,"s":0},{"d":2,"x":20,"g":"G","p":0.003,"s":0},{"d":2,"x":21,"g":"G","p":0.005,"s":0},{"d":2,"x":22,"g":"G","p":0.008,"s":0},
{"d":2,"x":23,"g":"G","p":0.004,"s":0},{"d":2,"x":24,"g":"G","p":0.006,"s":0},{"d":2,"x":25,"g":"G","p":0.005,"s":0},{"d":2,"x":26,"g":"G","p":0.015,"s":0},{"d":2,"x":27,"g":"G","p":0.004,"s":0},{"d":2,"x":28,"g":"G","p":0.013,"s":0},{"d":2,"x":29,"g":"G","p":0.006,"s":0},{"d":2,"x":30,"g":"G","p":0.015,"s":0},{"d":2,"x":31,"g":"G","p":0.005,"s":0},{"d":2,"x":32,"g":"G","p":0.007,"s":0},
{"d":2,"x":33,"g":"G","p":0.004,"s":0},{"d":2,"x":34,"g":"G","p":0.006,"s":0},{"d":2,"x":35,"g":"G","p":0.008,"s":0},{"d":2,"x":36,"g":"G","p":0.005,"s":0},{"d":2,"x":37,"g":"G","p":0.009,"s":0},{"d":2,"x":38,"g":"G","p":0.004,"s":0},{"d":2,"x":39,"g":"G","p":0.007,"s":0},{"d":2,"x":40,"g":"G","p":0.010,"s":0},{"d":2,"x":41,"g":"G","p":0.005,"s":0},{"d":2,"x":42,"g":"G","p":0.006,"s":0},
{"d":2,"x":43,"g":"G","p":0.008,"s":0},{"d":2,"x":44,"g":"G","p":0.004,"s":0},{"d":2,"x":45,"g":"G","p":0.007,"s":0},{"d":2,"x":46,"g":"G","p":0.005,"s":0},{"d":2,"x":47,"g":"G","p":0.009,"s":0},{"d":2,"x":48,"g":"G","p":0.006,"s":0},{"d":2,"x":49,"g":"G","p":0.004,"s":0},{"d":2,"x":50,"g":"G","p":0.008,"s":0},{"d":2,"x":51,"g":"G","p":0.006,"s":0},{"d":2,"x":52,"g":"G","p":0.010,"s":0},
{"d":2,"x":53,"g":"G","p":0.005,"s":0},
{"d":2,"x":54,"g":"M","p":0.012,"s":-0.001},{"d":2,"x":55,"g":"G","p":0.008,"s":-0.001},{"d":2,"x":56,"g":"L","p":0.015,"s":-0.001},{"d":2,"x":57,"g":"M","p":0.010,"s":-0.001},{"d":2,"x":58,"g":"G","p":0.007,"s":-0.002},{"d":2,"x":59,"g":"P","p":0.018,"s":-0.002},{"d":2,"x":60,"g":"L","p":0.011,"s":-0.002},{"d":2,"x":61,"g":"M","p":0.014,"s":-0.002},{"d":2,"x":62,"g":"P","p":0.024,"s":-0.003},{"d":2,"x":63,"g":"L","p":0.012,"s":-0.003},
{"d":2,"x":64,"g":"P","p":0.016,"s":-0.003},{"d":2,"x":65,"g":"M","p":0.019,"s":-0.003},{"d":2,"x":66,"g":"P","p":0.024,"s":-0.004},{"d":2,"x":67,"g":"L","p":0.013,"s":-0.004},{"d":2,"x":68,"g":"G","p":0.010,"s":-0.004},{"d":2,"x":69,"g":"L","p":0.017,"s":-0.004},{"d":2,"x":70,"g":"P","p":0.015,"s":-0.005},{"d":2,"x":71,"g":"M","p":0.020,"s":-0.005},{"d":2,"x":72,"g":"L","p":0.012,"s":-0.005},{"d":2,"x":73,"g":"P","p":0.021,"s":-0.006},
{"d":2,"x":74,"g":"M","p":0.016,"s":-0.006},{"d":2,"x":75,"g":"L","p":0.014,"s":-0.006},{"d":2,"x":76,"g":"P","p":0.022,"s":-0.006},{"d":2,"x":77,"g":"M","p":0.018,"s":-0.007},{"d":2,"x":78,"g":"L","p":0.013,"s":-0.007},{"d":2,"x":79,"g":"M","p":0.021,"s":-0.007},{"d":2,"x":80,"g":"P","p":0.019,"s":-0.007},{"d":2,"x":81,"g":"L","p":0.015,"s":-0.007},{"d":2,"x":82,"g":"M","p":0.022,"s":-0.008},{"d":2,"x":83,"g":"G","p":0.017,"s":-0.008},
{"d":2,"x":84,"g":"M","p":0.020,"s":-0.008},{"d":2,"x":85,"g":"L","p":0.016,"s":-0.008},{"d":2,"x":86,"g":"P","p":0.022,"s":-0.009},{"d":2,"x":87,"g":"M","p":0.023,"s":-0.009},{"d":2,"x":88,"g":"G","p":0.018,"s":-0.009},{"d":2,"x":89,"g":"L","p":0.019,"s":-0.010},{"d":2,"x":90,"g":"P","p":0.021,"s":-0.010},{"d":2,"x":91,"g":"L","p":0.017,"s":-0.010},{"d":2,"x":92,"g":"M","p":0.023,"s":-0.010},{"d":2,"x":93,"g":"L","p":0.018,"s":-0.011},
{"d":2,"x":94,"g":"P","p":0.022,"s":-0.011},{"d":2,"x":95,"g":"G","p":0.016,"s":-0.011},{"d":2,"x":96,"g":"L","p":0.020,"s":-0.011},{"d":2,"x":97,"g":"M","p":0.018,"s":-0.012},{"d":2,"x":98,"g":"L","p":0.022,"s":-0.012},{"d":2,"x":99,"g":"P","p":0.024,"s":-0.012},{"d":2,"x":100,"g":"L","p":0.019,"s":-0.012},{"d":2,"x":101,"g":"G","p":0.021,"s":-0.013},{"d":2,"x":102,"g":"L","p":0.017,"s":-0.013},{"d":2,"x":103,"g":"B","p":0.015,"s":-0.013},
{"d":2,"x":104,"g":"L","p":0.023,"s":-0.013},{"d":2,"x":105,"g":"P","p":0.025,"s":-0.013},{"d":2,"x":106,"g":"L","p":0.020,"s":-0.014},{"d":2,"x":107,"g":"M","p":0.022,"s":-0.014},{"d":2,"x":108,"g":"L","p":0.024,"s":-0.014},{"d":2,"x":109,"g":"P","p":0.026,"s":-0.014},{"d":2,"x":110,"g":"L","p":0.021,"s":-0.014},{"d":2,"x":111,"g":"M","p":0.023,"s":-0.014},{"d":2,"x":112,"g":"G","p":0.019,"s":-0.015},{"d":2,"x":113,"g":"L","p":0.025,"s":-0.015},
{"d":2,"x":114,"g":"P","p":0.024,"s":-0.015},{"d":2,"x":115,"g":"M","p":0.026,"s":-0.015},{"d":2,"x":116,"g":"L","p":0.022,"s":-0.015},{"d":2,"x":117,"g":"P","p":0.027,"s":-0.015},{"d":2,"x":118,"g":"L","p":0.024,"s":-0.016},{"d":2,"x":119,"g":"M","p":0.028,"s":-0.016},{"d":2,"x":120,"g":"L","p":0.025,"s":-0.016},{"d":2,"x":121,"g":"M","p":0.023,"s":-0.016},{"d":2,"x":122,"g":"P","p":0.029,"s":-0.016},{"d":2,"x":123,"g":"L","p":0.026,"s":-0.017},
{"d":2,"x":124,"g":"M","p":0.024,"s":-0.017},{"d":2,"x":125,"g":"P","p":0.028,"s":-0.017},{"d":2,"x":126,"g":"L","p":0.025,"s":-0.017},{"d":2,"x":127,"g":"G","p":0.023,"s":-0.018},{"d":2,"x":128,"g":"P","p":0.027,"s":-0.018},{"d":2,"x":129,"g":"L","p":0.029,"s":-0.018},{"d":2,"x":130,"g":"P","p":0.026,"s":-0.018},{"d":2,"x":131,"g":"M","p":0.030,"s":-0.019},{"d":2,"x":132,"g":"L","p":0.028,"s":-0.019},{"d":2,"x":133,"g":"G","p":0.025,"s":-0.019},
{"d":2,"x":134,"g":"M","p":0.031,"s":-0.019},{"d":2,"x":135,"g":"L","p":0.029,"s":-0.020},{"d":2,"x":136,"g":"P","p":0.033,"s":-0.020},{"d":2,"x":137,"g":"L","p":0.030,"s":-0.020},{"d":2,"x":138,"g":"M","p":0.028,"s":-0.021},{"d":2,"x":139,"g":"L","p":0.032,"s":-0.021},{"d":2,"x":140,"g":"P","p":0.034,"s":-0.021},{"d":2,"x":141,"g":"L","p":0.031,"s":-0.021},{"d":2,"x":142,"g":"M","p":0.029,"s":-0.022},{"d":2,"x":143,"g":"P","p":0.038,"s":-0.022},
{"d":2,"x":144,"g":"L","p":0.033,"s":-0.022},{"d":2,"x":145,"g":"P","p":0.039,"s":-0.023},{"d":2,"x":146,"g":"P","p":0.041,"s":-0.023},{"d":2,"x":147,"g":"L","p":0.035,"s":-0.023},{"d":2,"x":148,"g":"P","p":0.040,"s":-0.023},{"d":2,"x":149,"g":"L","p":0.032,"s":-0.024},{"d":2,"x":150,"g":"G","p":0.030,"s":-0.024},{"d":2,"x":151,"g":"P","p":0.037,"s":-0.024},{"d":2,"x":152,"g":"L","p":0.034,"s":-0.025},{"d":2,"x":153,"g":"P","p":0.042,"s":-0.025},
{"d":2,"x":154,"g":"L","p":0.036,"s":-0.025},{"d":2,"x":155,"g":"M","p":0.033,"s":-0.025},{"d":2,"x":156,"g":"P","p":0.040,"s":-0.026},{"d":2,"x":157,"g":"L","p":0.038,"s":-0.026},{"d":2,"x":158,"g":"P","p":0.041,"s":-0.026},{"d":2,"x":159,"g":"M","p":0.035,"s":-0.026},{"d":2,"x":160,"g":"L","p":0.037,"s":-0.027},{"d":2,"x":161,"g":"P","p":0.044,"s":-0.027},{"d":2,"x":162,"g":"M","p":0.036,"s":-0.028},{"d":2,"x":163,"g":"L","p":0.039,"s":-0.028},
{"d":2,"x":164,"g":"P","p":0.046,"s":-0.028},{"d":2,"x":165,"g":"L","p":0.040,"s":-0.029},{"d":2,"x":166,"g":"G","p":0.037,"s":-0.029},{"d":2,"x":167,"g":"P","p":0.049,"s":-0.029},{"d":2,"x":168,"g":"L","p":0.041,"s":-0.030},{"d":2,"x":169,"g":"M","p":0.038,"s":-0.030},{"d":2,"x":170,"g":"P","p":0.045,"s":-0.030},{"d":2,"x":171,"g":"L","p":0.043,"s":-0.031},{"d":2,"x":172,"g":"P","p":0.055,"s":-0.031},{"d":2,"x":173,"g":"M","p":0.045,"s":-0.032},
{"d":2,"x":174,"g":"L","p":0.044,"s":-0.032},{"d":2,"x":175,"g":"P","p":0.050,"s":-0.033},{"d":2,"x":176,"g":"L","p":0.046,"s":-0.033},{"d":2,"x":177,"g":"P","p":0.052,"s":-0.033},{"d":2,"x":178,"g":"L","p":0.045,"s":-0.034},{"d":2,"x":179,"g":"M","p":0.048,"s":-0.034},{"d":2,"x":180,"g":"P","p":0.056,"s":-0.035},{"d":2,"x":181,"g":"L","p":0.049,"s":-0.035},{"d":2,"x":182,"g":"L","p":0.047,"s":-0.036},{"d":2,"x":183,"g":"P","p":0.053,"s":-0.036},
{"d":2,"x":184,"g":"M","p":0.043,"s":-0.037},{"d":2,"x":185,"g":"L","p":0.050,"s":-0.038},{"d":2,"x":186,"g":"P","p":0.060,"s":-0.038},{"d":2,"x":187,"g":"L","p":0.052,"s":-0.039},{"d":2,"x":188,"g":"P","p":0.058,"s":-0.040},{"d":2,"x":189,"g":"P","p":0.066,"s":-0.040},{"d":2,"x":190,"g":"L","p":0.055,"s":-0.041},{"d":2,"x":191,"g":"M","p":0.048,"s":-0.042},{"d":2,"x":192,"g":"P","p":0.063,"s":-0.043},{"d":2,"x":193,"g":"L","p":0.056,"s":-0.043},
{"d":2,"x":194,"g":"P","p":0.062,"s":-0.044},{"d":2,"x":195,"g":"L","p":0.054,"s":-0.044},{"d":2,"x":196,"g":"P","p":0.060,"s":-0.045},{"d":2,"x":197,"g":"M","p":0.052,"s":-0.045},{"d":2,"x":198,"g":"L","p":0.058,"s":-0.046},{"d":2,"x":199,"g":"P","p":0.065,"s":-0.047},{"d":2,"x":200,"g":"L","p":0.059,"s":-0.047},{"d":2,"x":201,"g":"M","p":0.055,"s":-0.048},{"d":2,"x":202,"g":"P","p":0.068,"s":-0.049},{"d":2,"x":203,"g":"L","p":0.061,"s":-0.049},
{"d":2,"x":204,"g":"P","p":0.070,"s":-0.050},{"d":2,"x":205,"g":"P","p":0.064,"s":-0.050},{"d":2,"x":206,"g":"L","p":0.060,"s":-0.051},{"d":2,"x":207,"g":"M","p":0.057,"s":-0.052},{"d":2,"x":208,"g":"P","p":0.066,"s":-0.052},{"d":2,"x":209,"g":"L","p":0.062,"s":-0.053},{"d":2,"x":210,"g":"P","p":0.072,"s":-0.054},{"d":2,"x":211,"g":"L","p":0.065,"s":-0.054},{"d":2,"x":212,"g":"M","p":0.060,"s":-0.055},{"d":2,"x":213,"g":"B","p":0.063,"s":-0.056},
{"d":2,"x":214,"g":"P","p":0.075,"s":-0.056},{"d":2,"x":215,"g":"L","p":0.067,"s":-0.057},{"d":2,"x":216,"g":"P","p":0.080,"s":-0.058},{"d":2,"x":217,"g":"L","p":0.069,"s":-0.059},{"d":2,"x":218,"g":"P","p":0.078,"s":-0.060},{"d":2,"x":219,"g":"L","p":0.066,"s":-0.060},{"d":2,"x":220,"g":"M","p":0.071,"s":-0.061},{"d":2,"x":221,"g":"L","p":0.074,"s":-0.062},{"d":2,"x":222,"g":"P","p":0.079,"s":-0.063},{"d":2,"x":223,"g":"M","p":0.075,"s":-0.064},
{"d":2,"x":224,"g":"L","p":0.078,"s":-0.066},{"d":2,"x":225,"g":"P","p":0.094,"s":-0.068},{"d":2,"x":226,"g":"L","p":0.080,"s":-0.070},{"d":2,"x":227,"g":"P","p":0.083,"s":-0.072},{"d":2,"x":228,"g":"L","p":0.081,"s":-0.073},{"d":2,"x":229,"g":"P","p":0.090,"s":-0.075},{"d":2,"x":230,"g":"M","p":0.084,"s":-0.076},{"d":2,"x":231,"g":"L","p":0.086,"s":-0.077},{"d":2,"x":232,"g":"P","p":0.088,"s":-0.078},{"d":2,"x":233,"g":"L","p":0.085,"s":-0.079},
{"d":2,"x":234,"g":"P","p":0.096,"s":-0.080},{"d":2,"x":235,"g":"L","p":0.090,"s":-0.082},{"d":2,"x":236,"g":"P","p":0.093,"s":-0.083},{"d":2,"x":237,"g":"L","p":0.091,"s":-0.085},{"d":2,"x":238,"g":"P","p":0.098,"s":-0.086},{"d":2,"x":239,"g":"L","p":0.094,"s":-0.087},{"d":2,"x":240,"g":"P","p":0.103,"s":-0.088},{"d":2,"x":241,"g":"L","p":0.097,"s":-0.090},{"d":2,"x":242,"g":"P","p":0.100,"s":-0.092},{"d":2,"x":243,"g":"L","p":0.098,"s":-0.095},
{"d":2,"x":244,"g":"P","p":0.109,"s":-0.098},{"d":2,"x":245,"g":"L","p":0.106,"s":-0.102},{"d":2,"x":246,"g":"P","p":0.105,"s":-0.110},{"d":2,"x":247,"g":"P","p":0.111,"s":-0.120},{"d":2,"x":248,"g":"L","p":0.107,"s":-0.143},{"d":2,"x":249,"g":"P","p":0.165,"s":-0.174},{"d":2,"x":250,"g":"P","p":0.171,"s":-0.188}
]},
"facet":{"row":{"field":"d","type":"nominal","header":{"title":"Square root of contributions","titleOrient":"left","titleFontSize":14,"titleFontWeight":"normal","titleColor":"#4B4577","titleFont":"Liberation Sans","titlePadding":-8,"labelOrient":"right","labelAngle":90,"labelExpr":"'Dimension ' + datum.value","labelFontSize":11,"labelColor":"#4B4577","labelFont":"Liberation Sans","labelPadding":7}}},
"spacing":10,
"spec":{
"width":729,"height":426,
"encoding":{
"x":{"field":"x","type":"quantitative","scale":{"domain":[-275,275],"nice":false,"zero":false},
"axis":{"title":"Centered rank index of sorted signed contributions","values":[-250,-200,-150,-100,-50,0,50,100,150,200,250],"labelExpr":"datum.value % 100 == 0 ? datum.label : ''","labelFlush":false,"tickOpacity":{"condition":{"test":"datum.value % 100 == 0","value":1},"value":0},"gridWidth":{"condition":{"test":"datum.value % 100 == 0","value":1},"value":0.7},"labelFontSize":11,"titleFontSize":14,"labelPadding":3,"titlePadding":4}}
},
"layer":[
{"mark":{"type":"rule","strokeWidth":1.4,"opacity":0.55},
"encoding":{
"y":{"field":"p","type":"quantitative","scale":{"domain":[-0.284,0.243],"nice":false,"zero":false},
"axis":{"title":null,"values":[-0.25,-0.2,-0.15,-0.1,-0.05,0,0.05,0.1,0.15,0.2],"labelExpr":"abs(datum.value*10 - round(datum.value*10)) > 0.01 ? '' : (datum.value == 0 ? '0' : format(abs(datum.value), '.1f'))","labelAngle":270,"labelAlign":"center","labelBaseline":"bottom","labelFlush":false,"labelFontSize":11,"labelPadding":4,"tickOpacity":{"condition":{"test":"abs(datum.value*10 - round(datum.value*10)) < 0.01","value":1},"value":0},"gridWidth":{"condition":{"test":"abs(datum.value*10 - round(datum.value*10)) < 0.01","value":1},"value":0.7}}},
"y2":{"field":"s"},
"color":{"field":"g","type":"nominal","scale":{"domain":["B","L","M","P","G"],"range":["#EDC21E","#F0449C","#5E2D8C","#D4734F","#3C8C3C"]},
"legend":{"title":"Genre","orient":"none","legendX":777,"legendY":363,"labelExpr":"datum.label == 'B' ? 'Biography' : datum.label == 'L' ? 'Love story' : datum.label == 'M' ? 'Mystery' : datum.label == 'P' ? 'Philosophy' : 'Science fiction'","symbolType":"M-1,0L1,0M-0.12,-0.12L0.12,-0.12L0.12,0.12L-0.12,0.12Z","symbolSize":400,"symbolStrokeWidth":1.8,"titleFontSize":14,"titleFontWeight":"normal","titleColor":"#4B4577","labelColor":"#4B4577","labelFontSize":11,"rowPadding":9,"titlePadding":10,"labelOffset":8}}
}},
{"mark":{"type":"point","filled":true,"size":7,"opacity":1},
"encoding":{"y":{"field":"p","type":"quantitative","title":null},"color":{"field":"g","type":"nominal","legend":null}}},
{"mark":{"type":"point","filled":true,"size":7,"opacity":1},
"encoding":{"y":{"field":"s","type":"quantitative","title":null},"color":{"field":"g","type":"nominal","legend":null}}},
{"transform":[{"filter":"datum.x == 0"}],"mark":{"type":"rule","color":"#45396E","strokeWidth":1.5},
"encoding":{"y":{"datum":0},"x":{"value":0},"x2":{"value":729}}},
{"transform":[{"filter":"datum.x == 0"}],"mark":{"type":"text","fontSize":20.5,"color":"#4B4577","font":"Liberation Sans"},
"encoding":{"x":{"datum":0},"y":{"datum":0.152},"text":{"value":"Plain CA"}}},
{"transform":[{"filter":"datum.x == 0"}],"mark":{"type":"text","fontSize":20.5,"color":"#4B4577","font":"Liberation Sans"},
"encoding":{"x":{"datum":0},"y":{"datum":-0.153},"text":{"value":"Sparse CA"}}}
]
},
"config":{
"font":"Liberation Sans",
"view":{"stroke":"#3F3566","strokeWidth":3},
"axis":{"labelColor":"#4B4577","titleColor":"#4B4577","labelFont":"Liberation Sans","titleFont":"Liberation Sans","titleFontWeight":"normal","gridColor":"#EBEBEB","domain":false,"tickColor":"#333333","tickSize":3.5},
"legend":{"labelFont":"Liberation Sans","titleFont":"Liberation Sans"}
}
}
